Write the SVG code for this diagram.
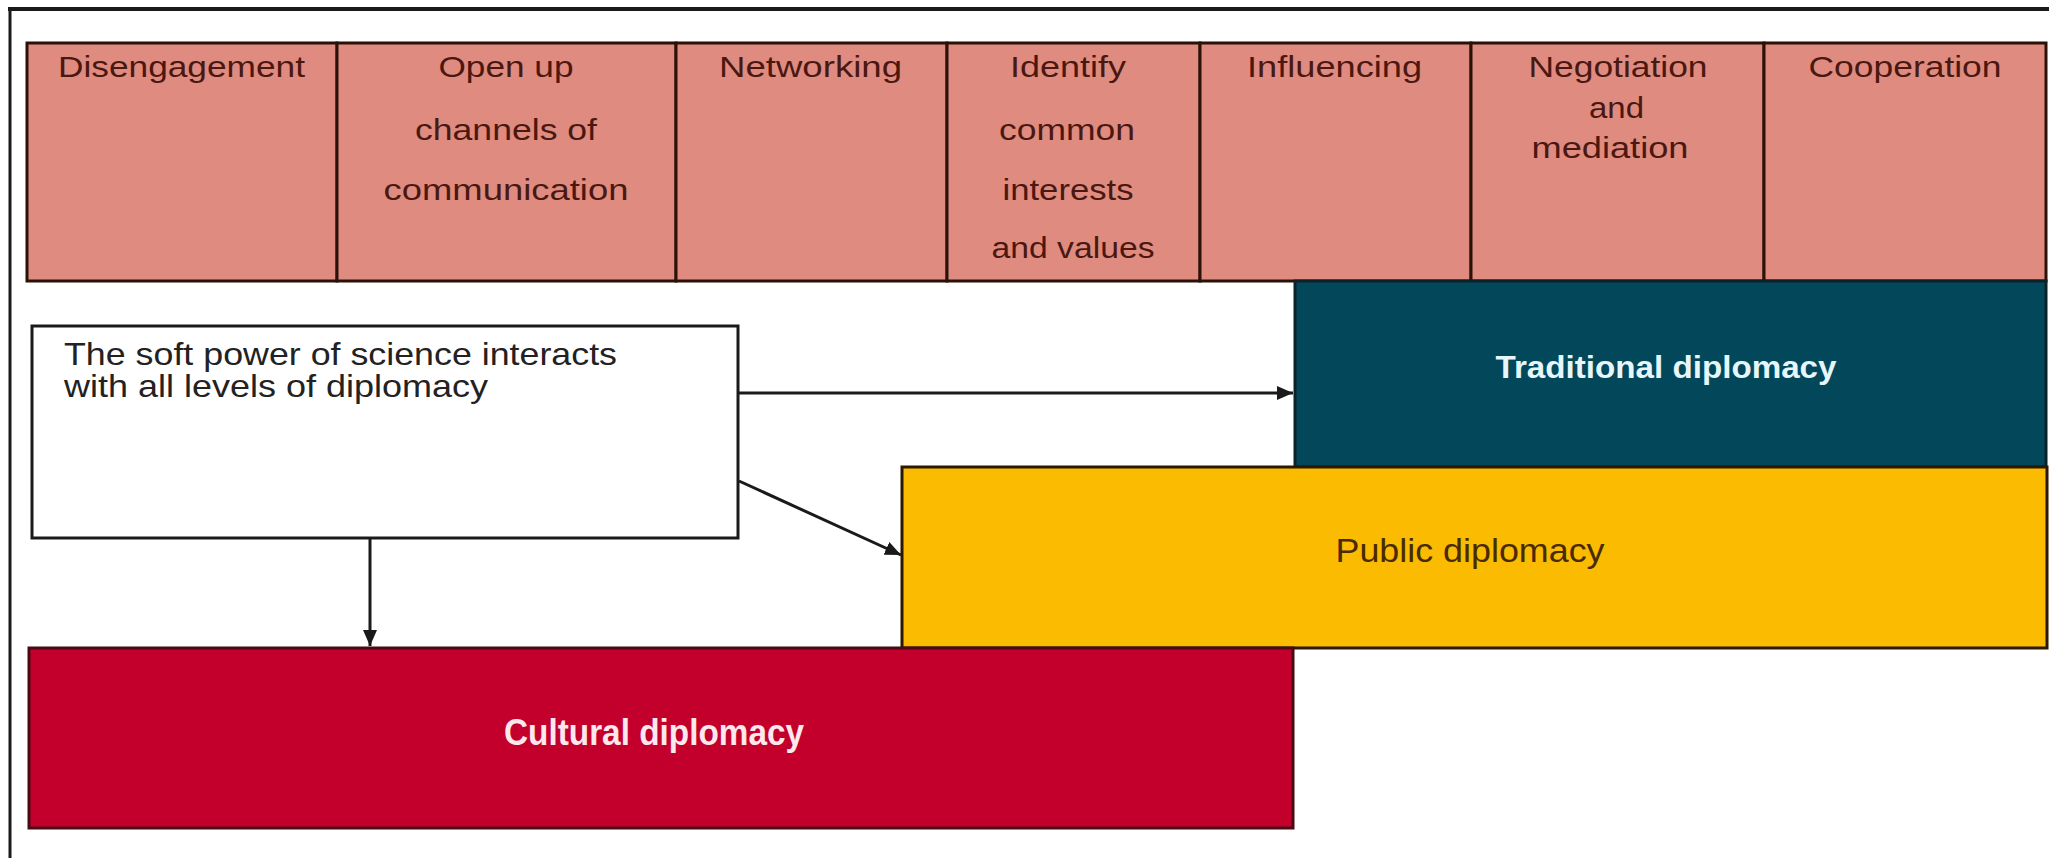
<svg xmlns="http://www.w3.org/2000/svg" width="2049" height="858" viewBox="0 0 2049 858">
<style>
.hd{fill:#df8b80;stroke:#2a1208;stroke-width:3}
.ht{font-family:"Liberation Sans",Arial,sans-serif;font-size:30px;fill:#4a1810;text-anchor:middle}
.conn{stroke:#1a1a1a;stroke-width:3;fill:none}
</style>
<defs>
<marker id="arr" markerUnits="userSpaceOnUse" markerWidth="16" markerHeight="14" viewBox="0 0 16 14" refX="16" refY="7" orient="auto">
<path d="M0,0 L16,7 L0,14 z" fill="#1a1a1a"/>
</marker>
</defs>
<rect x="0" y="0" width="2049" height="858" fill="#ffffff"/>
<g id="frame" stroke="#1a1a1a" fill="none">
<line x1="8" y1="9" x2="2049" y2="9" stroke-width="4"/>
<line x1="10" y1="7" x2="10" y2="858" stroke-width="3"/>
</g>
<g id="header">
<g id="h1"><rect class="hd" x="27" y="43" width="310" height="238"/>
<text class="ht" x="181.5" y="77" textLength="247" lengthAdjust="spacingAndGlyphs">Disengagement</text></g>
<g id="h2"><rect class="hd" x="337" y="43" width="339" height="238"/>
<text class="ht" x="506" y="77" textLength="135" lengthAdjust="spacingAndGlyphs">Open up</text>
<text class="ht" x="506" y="140" textLength="182" lengthAdjust="spacingAndGlyphs">channels of</text>
<text class="ht" x="506" y="200" textLength="245" lengthAdjust="spacingAndGlyphs">communication</text></g>
<g id="h3"><rect class="hd" x="676" y="43" width="271" height="238"/>
<text class="ht" x="810.5" y="77" textLength="183" lengthAdjust="spacingAndGlyphs">Networking</text></g>
<g id="h4"><rect class="hd" x="947" y="43" width="253" height="238"/>
<text class="ht" x="1068" y="77" textLength="116" lengthAdjust="spacingAndGlyphs">Identify</text>
<text class="ht" x="1067" y="140" textLength="136" lengthAdjust="spacingAndGlyphs">common</text>
<text class="ht" x="1068" y="200" textLength="131" lengthAdjust="spacingAndGlyphs">interests</text>
<text class="ht" x="1073" y="258" textLength="163" lengthAdjust="spacingAndGlyphs">and values</text></g>
<g id="h5"><rect class="hd" x="1200" y="43" width="271" height="238"/>
<text class="ht" x="1334.5" y="77" textLength="175" lengthAdjust="spacingAndGlyphs">Influencing</text></g>
<g id="h6"><rect class="hd" x="1471" y="43" width="293" height="238"/>
<text class="ht" x="1618" y="77" textLength="179" lengthAdjust="spacingAndGlyphs">Negotiation</text>
<text class="ht" x="1616.5" y="118" textLength="55" lengthAdjust="spacingAndGlyphs">and</text>
<text class="ht" x="1610" y="158" textLength="157" lengthAdjust="spacingAndGlyphs">mediation</text></g>
<g id="h7"><rect class="hd" x="1764" y="43" width="282" height="238"/>
<text class="ht" x="1905" y="77" textLength="193" lengthAdjust="spacingAndGlyphs">Cooperation</text></g>
</g>
<g id="traditional">
<rect x="1295" y="281" width="751" height="186" fill="#02475a" stroke="#0d2228" stroke-width="3"/>
<text x="1666" y="378" text-anchor="middle" font-family="Liberation Sans, Arial, sans-serif" font-size="32" font-weight="bold" fill="#e6f6fa" textLength="341" lengthAdjust="spacingAndGlyphs">Traditional diplomacy</text>
</g>
<g id="public">
<rect x="902" y="467" width="1145" height="181" fill="#fbbb00" stroke="#2a1800" stroke-width="3"/>
<text x="1470" y="562" text-anchor="middle" font-family="Liberation Sans, Arial, sans-serif" font-size="34" fill="#4a2a00" textLength="269" lengthAdjust="spacingAndGlyphs">Public diplomacy</text>
</g>
<g id="cultural">
<rect x="29" y="648" width="1264" height="180" fill="#c2002b" stroke="#4a0a14" stroke-width="3"/>
<text x="654" y="745" text-anchor="middle" font-family="Liberation Sans, Arial, sans-serif" font-size="36" font-weight="bold" fill="#fde8ee" textLength="300" lengthAdjust="spacingAndGlyphs">Cultural diplomacy</text>
</g>
<g id="softpower">
<rect x="32" y="326" width="706" height="212" fill="#ffffff" stroke="#1a1a1a" stroke-width="3"/>
<text x="64" y="365" font-family="Liberation Sans, Arial, sans-serif" font-size="32" fill="#222222" textLength="553" lengthAdjust="spacingAndGlyphs">The soft power of science interacts</text>
<text x="64" y="397" font-family="Liberation Sans, Arial, sans-serif" font-size="32" fill="#222222" textLength="424" lengthAdjust="spacingAndGlyphs">with all levels of diplomacy</text>
</g>
<g id="connectors">
<line class="conn" x1="739" y1="393" x2="1293" y2="393" marker-end="url(#arr)"/>
<line class="conn" x1="739" y1="481" x2="901" y2="555" stroke-width="2.5" marker-end="url(#arr)"/>
<line class="conn" x1="370" y1="539" x2="370" y2="646" stroke-width="2.5" marker-end="url(#arr)"/>
</g>
</svg>
